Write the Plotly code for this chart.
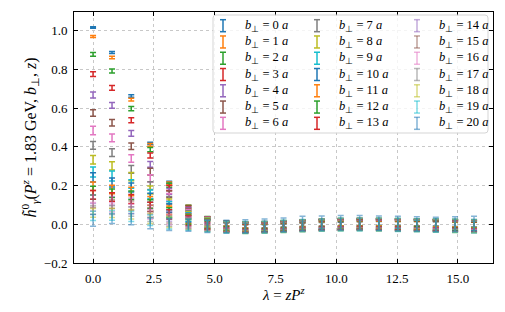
import plotly.graph_objects as go

# ---------------- data ----------------
lam = [0.0, 0.78, 1.57, 2.35, 3.13, 3.92, 4.70, 5.48, 6.26, 7.05, 7.83,
       8.61, 9.40, 10.18, 10.96, 11.75, 12.53, 13.31, 14.09, 14.88, 15.66]

b_perp = list(range(21))

h_b0 = [1.017, 0.888, 0.663, 0.418, 0.216, 0.092, 0.031, 0.000, -0.010, -0.010, -0.006, -0.003, 0.000, 0.002, 0.003, 0.004, 0.004, 0.003, 0.002, 0.000, -0.002]
h_b1 = [0.970, 0.862, 0.644, 0.410, 0.212, 0.090, 0.030, 0.000, -0.010, -0.010, -0.006, -0.002, 0.001, 0.003, 0.004, 0.004, 0.003, 0.002, 0.001, -0.001, -0.003]
h_b2 = [0.878, 0.792, 0.598, 0.386, 0.202, 0.086, 0.028, -0.001, -0.011, -0.010, -0.006, -0.002, 0.001, 0.003, 0.004, 0.004, 0.003, 0.002, 0.000, -0.002, -0.004]
h_b3 = [0.776, 0.705, 0.538, 0.355, 0.188, 0.080, 0.025, -0.002, -0.012, -0.011, -0.007, -0.002, 0.001, 0.003, 0.004, 0.003, 0.003, 0.001, 0.000, -0.002, -0.005]
h_b4 = [0.668, 0.614, 0.470, 0.310, 0.170, 0.072, 0.021, -0.004, -0.012, -0.011, -0.007, -0.003, 0.001, 0.003, 0.003, 0.003, 0.002, 0.001, -0.001, -0.003, -0.005]
h_b5 = [0.575, 0.525, 0.403, 0.272, 0.155, 0.064, 0.018, -0.005, -0.013, -0.012, -0.008, -0.003, 0.000, 0.002, 0.003, 0.003, 0.002, 0.000, -0.002, -0.004, -0.006]
h_b6 = [0.485, 0.446, 0.340, 0.237, 0.140, 0.057, 0.015, -0.006, -0.013, -0.012, -0.008, -0.004, 0.000, 0.002, 0.003, 0.002, 0.001, 0.000, -0.002, -0.004, -0.006]
h_b7 = [0.408, 0.370, 0.284, 0.200, 0.124, 0.050, 0.012, -0.007, -0.014, -0.012, -0.008, -0.004, 0.000, 0.002, 0.002, 0.002, 0.001, -0.001, -0.003, -0.005, -0.007]
h_b8 = [0.333, 0.302, 0.246, 0.177, 0.110, 0.044, 0.010, -0.008, -0.014, -0.012, -0.009, -0.004, -0.001, 0.001, 0.002, 0.002, 0.000, -0.001, -0.003, -0.005, -0.007]
h_b9 = [0.270, 0.250, 0.208, 0.155, 0.096, 0.038, 0.007, -0.009, -0.015, -0.013, -0.009, -0.005, -0.001, 0.001, 0.002, 0.001, 0.000, -0.002, -0.004, -0.005, -0.007]
h_b10 = [0.242, 0.216, 0.190, 0.137, 0.085, 0.033, 0.005, -0.010, -0.015, -0.013, -0.009, -0.005, -0.001, 0.001, 0.002, 0.001, 0.000, -0.002, -0.004, -0.006, -0.008]
h_b11 = [0.197, 0.180, 0.170, 0.121, 0.072, 0.028, 0.003, -0.010, -0.015, -0.013, -0.009, -0.005, -0.002, 0.001, 0.001, 0.001, -0.001, -0.002, -0.004, -0.006, -0.008]
h_b12 = [0.174, 0.160, 0.150, 0.104, 0.061, 0.024, 0.001, -0.011, -0.016, -0.013, -0.010, -0.005, -0.002, 0.000, 0.001, 0.000, -0.001, -0.003, -0.005, -0.006, -0.008]
h_b13 = [0.152, 0.141, 0.131, 0.090, 0.051, 0.019, -0.001, -0.012, -0.016, -0.014, -0.010, -0.006, -0.002, 0.000, 0.001, 0.000, -0.001, -0.003, -0.005, -0.007, -0.008]
h_b14 = [0.130, 0.122, 0.113, 0.076, 0.041, 0.015, -0.003, -0.012, -0.016, -0.014, -0.010, -0.006, -0.002, 0.000, 0.001, 0.000, -0.002, -0.003, -0.005, -0.007, -0.009]
h_b15 = [0.109, 0.104, 0.096, 0.062, 0.032, 0.011, -0.004, -0.013, -0.016, -0.014, -0.010, -0.006, -0.003, 0.000, 0.000, 0.000, -0.002, -0.004, -0.005, -0.007, -0.009]
h_b16 = [0.091, 0.088, 0.080, 0.051, 0.024, 0.007, -0.006, -0.013, -0.017, -0.014, -0.011, -0.006, -0.003, -0.001, 0.000, -0.001, -0.002, -0.004, -0.006, -0.007, -0.009]
h_b17 = [0.074, 0.073, 0.066, 0.040, 0.017, 0.004, -0.007, -0.014, -0.017, -0.015, -0.011, -0.007, -0.003, -0.001, 0.000, -0.001, -0.002, -0.004, -0.006, -0.008, -0.009]
h_b18 = [0.059, 0.059, 0.052, 0.030, 0.010, 0.001, -0.008, -0.014, -0.017, -0.015, -0.011, -0.007, -0.003, -0.001, 0.000, -0.001, -0.003, -0.004, -0.006, -0.008, -0.010]
h_b19 = [0.044, 0.046, 0.040, 0.021, 0.004, -0.002, -0.009, -0.015, -0.017, -0.015, -0.011, -0.007, -0.004, -0.001, -0.001, -0.001, -0.003, -0.005, -0.006, -0.008, -0.010]
h_b20 = [0.020, 0.030, 0.026, 0.005, -0.002, -0.005, -0.010, -0.012, -0.010, -0.006, -0.002, 0.004, 0.006, 0.008, 0.008, 0.006, 0.004, 0.002, 0.000, 0.002, 0.004]

e_b0 = [0.004, 0.005, 0.006, 0.006, 0.006, 0.006, 0.007, 0.007, 0.008, 0.008, 0.008, 0.009, 0.009, 0.009, 0.010, 0.010, 0.010, 0.011, 0.011, 0.011, 0.012]
e_b1 = [0.005, 0.006, 0.007, 0.007, 0.007, 0.008, 0.008, 0.009, 0.009, 0.010, 0.010, 0.010, 0.011, 0.011, 0.011, 0.012, 0.012, 0.012, 0.013, 0.013, 0.013]
e_b2 = [0.010, 0.010, 0.011, 0.011, 0.011, 0.011, 0.012, 0.012, 0.012, 0.013, 0.013, 0.013, 0.014, 0.014, 0.014, 0.015, 0.015, 0.015, 0.016, 0.016, 0.016]
e_b3 = [0.012, 0.012, 0.013, 0.013, 0.013, 0.013, 0.014, 0.014, 0.014, 0.015, 0.015, 0.015, 0.016, 0.016, 0.016, 0.017, 0.017, 0.017, 0.018, 0.018, 0.018]
e_b4 = [0.015, 0.015, 0.015, 0.015, 0.015, 0.016, 0.016, 0.016, 0.017, 0.017, 0.017, 0.018, 0.018, 0.018, 0.019, 0.019, 0.019, 0.020, 0.020, 0.020, 0.021]
e_b5 = [0.017, 0.017, 0.017, 0.017, 0.017, 0.018, 0.018, 0.018, 0.019, 0.019, 0.019, 0.020, 0.020, 0.020, 0.021, 0.021, 0.021, 0.022, 0.022, 0.022, 0.023]
e_b6 = [0.022, 0.020, 0.019, 0.019, 0.019, 0.019, 0.020, 0.020, 0.020, 0.021, 0.021, 0.021, 0.022, 0.022, 0.022, 0.023, 0.023, 0.023, 0.024, 0.024, 0.024]
e_b7 = [0.020, 0.020, 0.020, 0.020, 0.020, 0.020, 0.021, 0.021, 0.021, 0.022, 0.022, 0.022, 0.023, 0.023, 0.023, 0.024, 0.024, 0.024, 0.025, 0.025, 0.025]
e_b8 = [0.022, 0.021, 0.021, 0.021, 0.021, 0.021, 0.022, 0.022, 0.022, 0.023, 0.023, 0.023, 0.024, 0.024, 0.024, 0.025, 0.025, 0.025, 0.026, 0.026, 0.026]
e_b9 = [0.026, 0.026, 0.022, 0.022, 0.022, 0.022, 0.023, 0.023, 0.023, 0.024, 0.024, 0.024, 0.025, 0.025, 0.025, 0.026, 0.026, 0.026, 0.027, 0.027, 0.027]
e_b10 = [0.024, 0.023, 0.023, 0.023, 0.023, 0.023, 0.024, 0.024, 0.024, 0.025, 0.025, 0.025, 0.026, 0.026, 0.026, 0.027, 0.027, 0.027, 0.028, 0.028, 0.028]
e_b11 = [0.022, 0.022, 0.022, 0.023, 0.023, 0.024, 0.024, 0.025, 0.025, 0.025, 0.026, 0.026, 0.026, 0.027, 0.027, 0.027, 0.028, 0.028, 0.028, 0.029, 0.029]
e_b12 = [0.022, 0.022, 0.022, 0.023, 0.024, 0.024, 0.025, 0.025, 0.026, 0.026, 0.026, 0.027, 0.027, 0.027, 0.028, 0.028, 0.028, 0.029, 0.029, 0.029, 0.030]
e_b13 = [0.022, 0.022, 0.023, 0.024, 0.024, 0.025, 0.025, 0.026, 0.026, 0.027, 0.027, 0.027, 0.028, 0.028, 0.028, 0.029, 0.029, 0.029, 0.030, 0.030, 0.030]
e_b14 = [0.022, 0.022, 0.023, 0.024, 0.025, 0.025, 0.026, 0.026, 0.027, 0.027, 0.028, 0.028, 0.028, 0.029, 0.029, 0.029, 0.030, 0.030, 0.030, 0.031, 0.031]
e_b15 = [0.022, 0.023, 0.024, 0.025, 0.025, 0.026, 0.027, 0.027, 0.028, 0.028, 0.028, 0.029, 0.029, 0.030, 0.030, 0.030, 0.031, 0.031, 0.031, 0.032, 0.032]
e_b16 = [0.022, 0.023, 0.024, 0.025, 0.026, 0.027, 0.027, 0.028, 0.028, 0.029, 0.029, 0.030, 0.030, 0.030, 0.031, 0.031, 0.031, 0.032, 0.032, 0.032, 0.033]
e_b17 = [0.022, 0.023, 0.025, 0.026, 0.027, 0.027, 0.028, 0.029, 0.029, 0.030, 0.030, 0.030, 0.031, 0.031, 0.032, 0.032, 0.032, 0.033, 0.033, 0.033, 0.034]
e_b18 = [0.023, 0.024, 0.025, 0.026, 0.027, 0.028, 0.029, 0.029, 0.030, 0.030, 0.031, 0.031, 0.032, 0.032, 0.032, 0.033, 0.033, 0.033, 0.034, 0.034, 0.034]
e_b19 = [0.024, 0.025, 0.026, 0.027, 0.028, 0.029, 0.029, 0.030, 0.031, 0.031, 0.032, 0.032, 0.032, 0.033, 0.033, 0.034, 0.034, 0.034, 0.035, 0.035, 0.035]
e_b20 = [0.030, 0.026, 0.028, 0.028, 0.030, 0.031, 0.032, 0.033, 0.034, 0.034, 0.035, 0.037, 0.037, 0.037, 0.037, 0.037, 0.037, 0.037, 0.037, 0.037, 0.037]

h_values = [h_b0, h_b1, h_b2, h_b3, h_b4, h_b5, h_b6, h_b7, h_b8, h_b9, h_b10,
            h_b11, h_b12, h_b13, h_b14, h_b15, h_b16, h_b17, h_b18, h_b19, h_b20]
h_errors = [e_b0, e_b1, e_b2, e_b3, e_b4, e_b5, e_b6, e_b7, e_b8, e_b9, e_b10,
            e_b11, e_b12, e_b13, e_b14, e_b15, e_b16, e_b17, e_b18, e_b19, e_b20]

x_ticks = [0.0, 2.5, 5.0, 7.5, 10.0, 12.5, 15.0]
y_ticks = [-0.2, 0.0, 0.2, 0.4, 0.6, 0.8, 1.0]

x_title = "<i>λ</i> = <i>zP</i><sup><i>z</i></sup>"
y_title = ("<i>h̃</i><sup>0</sup><sub><i>γ</i></sub>(<i>P</i><sup><i>z</i></sup> = 1.83 GeV, "
           "<i>b</i><sub>⊥</sub>, <i>z</i>)")

# ---------------- style ----------------
tab10 = ['#1f77b4', '#ff7f0e', '#2ca02c', '#d62728', '#9467bd',
         '#8c564b', '#e377c2', '#7f7f7f', '#bcbd22', '#17becf']


def series_color(b):
    hexc = tab10[b % 10].lstrip('#')
    rr, gg, bb = int(hexc[0:2], 16), int(hexc[2:4], 16), int(hexc[4:6], 16)
    alpha = 1.0 if b < 14 else 0.55
    return f"rgba({rr},{gg},{bb},{alpha})"


FONT = "Liberation Serif, Times New Roman, serif"
OFF = 8                      # default page (body) margin of the html page
W, H = 505 - OFF, 312 - OFF  # figure size so that the page is exactly 505x312
# plot area in page pixels (from the reference)
PX0, PX1, PY0, PY1 = 74, 493, 12, 263
L, T = PX0 - OFF, PY0 - OFF
R, B = 505 - PX1, 312 - PY1
PW, PH = PX1 - PX0, PY1 - PY0

fig = go.Figure()
for b, vals, errs in zip(b_perp, h_values, h_errors):
    col = series_color(b)
    fig.add_trace(go.Scatter(
        x=lam, y=vals, mode='markers',
        marker=dict(size=1, opacity=0, color=col),
        error_y=dict(type='data', array=errs, visible=True, color=col,
                     thickness=1.5, width=3),
        name=f"b={b}", showlegend=False,
    ))

# ---------------- legend (matplotlib-like, column-major) ----------------
def px_to_paper_x(px):
    return (px - PX0) / PW

def px_to_paper_y(py):
    return (PY1 - py) / PH

box = (213, 15, 488, 133)
x0, y0, x1, y1 = box
rad = 3
path = (f"M{px_to_paper_x(x0+rad)},{px_to_paper_y(y0)} "
        f"L{px_to_paper_x(x1-rad)},{px_to_paper_y(y0)} "
        f"Q{px_to_paper_x(x1)},{px_to_paper_y(y0)} {px_to_paper_x(x1)},{px_to_paper_y(y0+rad)} "
        f"L{px_to_paper_x(x1)},{px_to_paper_y(y1-rad)} "
        f"Q{px_to_paper_x(x1)},{px_to_paper_y(y1)} {px_to_paper_x(x1-rad)},{px_to_paper_y(y1)} "
        f"L{px_to_paper_x(x0+rad)},{px_to_paper_y(y1)} "
        f"Q{px_to_paper_x(x0)},{px_to_paper_y(y1)} {px_to_paper_x(x0)},{px_to_paper_y(y1-rad)} "
        f"L{px_to_paper_x(x0)},{px_to_paper_y(y0+rad)} "
        f"Q{px_to_paper_x(x0)},{px_to_paper_y(y0)} {px_to_paper_x(x0+rad)},{px_to_paper_y(y0)} Z")
shapes = [dict(type='path', xref='paper', yref='paper', path=path,
               fillcolor='rgba(255,255,255,0.8)', line=dict(color='#d5d5d5', width=1), layer='above')]
annotations = []
glyph_x = [223, 317, 417]
text_x = [243, 337, 437]
row_y0, row_dy = 25.7, 16.27
for b in b_perp:
    c, r = divmod(b, 7)
    col = series_color(b)
    gx, gy = glyph_x[c], row_y0 + r * row_dy
    hh, cw = 6.0, 3.0
    for (xa, ya, xb, yb) in [(gx, gy - hh, gx, gy + hh),
                             (gx - cw, gy - hh, gx + cw, gy - hh),
                             (gx - cw, gy + hh, gx + cw, gy + hh)]:
        shapes.append(dict(type='line', xref='paper', yref='paper',
                           x0=px_to_paper_x(xa), y0=px_to_paper_y(ya),
                           x1=px_to_paper_x(xb), y1=px_to_paper_y(yb),
                           line=dict(color=col, width=1.5), layer='above'))
    annotations.append(dict(
        xref='paper', yref='paper', x=px_to_paper_x(text_x[c]), y=px_to_paper_y(gy),
        xanchor='left', yanchor='middle', showarrow=False,
        text=f"<i>b</i><sub>⊥</sub> = {b} <i>a</i>",
        font=dict(family=FONT, size=12.5, color='black')))

# x-axis title placed where the reference has it
annotations.append(dict(xref='paper', yref='paper', x=px_to_paper_x(283.5), y=px_to_paper_y(294),
                        xanchor='center', yanchor='middle', showarrow=False, text=x_title,
                        font=dict(family=FONT, size=15, color='black')))

axis_common = dict(
    showline=True, linecolor='black', linewidth=1, mirror='ticks',
    ticks='inside', ticklen=4, tickwidth=0.8, tickcolor='black',
    showgrid=True, gridcolor='#c8c8c8', gridwidth=0.8, griddash='dot',
    zeroline=False, automargin=False,
    tickfont=dict(family=FONT, size=13, color='black'),
)

fig.update_layout(
    width=W, height=H,
    margin=dict(l=L, r=R, t=T, b=B, autoexpand=False),
    paper_bgcolor='white', plot_bgcolor='white',
    showlegend=False,
    font=dict(family=FONT, size=13, color='black'),
    shapes=shapes, annotations=annotations,
    xaxis=dict(range=[-0.783, 16.44], tickvals=x_ticks,
               ticktext=[f"{v:.1f}" for v in x_ticks],
               ticklabelstandoff=3, **axis_common),
    yaxis=dict(range=[-0.2, 1.097], tickvals=y_ticks,
               ticktext=[f"{v:.1f}".replace('-', '−') for v in y_ticks],
               title=dict(text=y_title, font=dict(family=FONT, size=16, color='black'), standoff=3),
               ticklabelstandoff=3, **axis_common),
)

fig.write_html("out.html")
